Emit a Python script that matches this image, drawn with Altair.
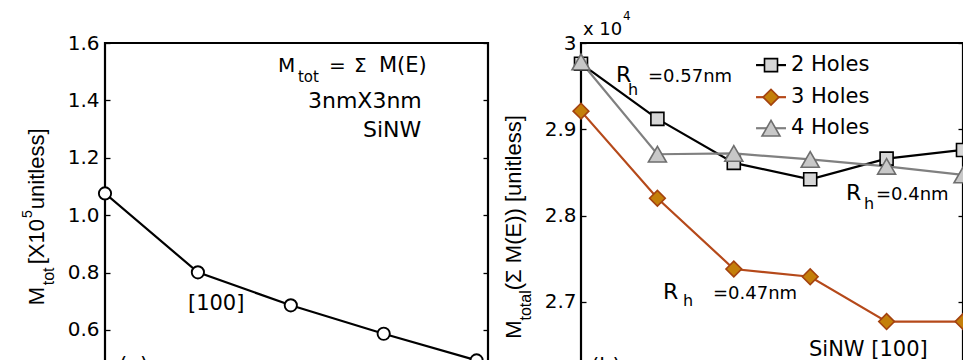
import altair as alt
import pandas as pd

# ---------------- data ----------------
left_x = [0, 1, 2, 3, 4]
left_m = [1.076, 0.801, 0.686, 0.587, 0.494]          # x 10^5

right_x = [0, 1, 2, 3, 4, 5]
series_names = ["2 Holes", "3 Holes", "4 Holes"]
holes2 = [2.976, 2.912, 2.861, 2.842, 2.866, 2.876]   # x 10^4
holes3 = [2.921, 2.820, 2.738, 2.729, 2.677, 2.677]
holes4 = [2.978, 2.871, 2.872, 2.865, 2.857, 2.847]

left_yticks = [0.6, 0.8, 1.0, 1.2, 1.4, 1.6]
left_xticks = [0, 0.97, 1.94, 2.91, 3.88]
right_yticks = [2.7, 2.8, 2.9, 3.0]
right_xticks = [0, 1, 2, 3, 4, 5]

# ---------------- styles ----------------
FONT = "DejaVu Sans"
TFONT = "Liberation Sans"
line_colors = ["#000000", "#b5491a", "#808080"]
fill_colors = ["#d6d6d6", "#c47f0a", "#c8c8c8"]
edge_colors = ["#000000", "#a3420f", "#6e6e6e"]
shapes = ["square", "diamond", "triangle-up"]
sizes = [169, 324, 440]

# ---------------- annotations (data coordinates) ----------------
left_notes = pd.DataFrame([
    {"t": "M", "x": 1.862, "y": 1.4988, "s": 20},
    {"t": "tot", "x": 2.077, "y": 1.464, "s": 15},
    {"t": "=", "x": 2.411, "y": 1.4988, "s": 20},
    {"t": "Σ", "x": 2.680, "y": 1.4988, "s": 20},
    {"t": "M(E)", "x": 2.949, "y": 1.4988, "s": 21},
    {"t": "3nmX3nm", "x": 2.185, "y": 1.3733, "s": 22},
    {"t": "SiNW", "x": 2.777, "y": 1.2721, "s": 22},
    {"t": "[100]", "x": 0.893, "y": 0.6687, "s": 21},
])
left_tag = pd.DataFrame([{"t": "(a)", "x": 0.151, "y": 0.4525, "s": 21}])
# rotated y-axis title of the left panel, written in pieces (sub/superscripts)
left_title = pd.DataFrame([
    {"t": "M", "x": -0.657, "y": 0.686, "s": 22},
    {"t": "tot", "x": -0.549, "y": 0.756, "s": 16},
    {"t": "[X10", "x": -0.657, "y": 0.829, "s": 22},
    {"t": "5", "x": -0.786, "y": 0.990, "s": 14},
    {"t": "unitless]", "x": -0.657, "y": 1.021, "s": 22},
])

right_notes = pd.DataFrame([
    {"t": "x 10", "x": 0.026, "y": 3.0093, "s": 18},
    {"t": "4", "x": 0.55, "y": 3.0267, "s": 12},
    {"t": "R", "x": 0.458, "y": 2.9547, "s": 22},
    {"t": "h", "x": 0.615, "y": 2.9395, "s": 16},
    {"t": "=0.57nm", "x": 0.877, "y": 2.9547, "s": 18},
    {"t": "R", "x": 3.469, "y": 2.8174, "s": 22},
    {"t": "h", "x": 3.704, "y": 2.8070, "s": 16},
    {"t": "=0.4nm", "x": 3.861, "y": 2.8174, "s": 18},
    {"t": "R", "x": 1.073, "y": 2.7035, "s": 22},
    {"t": "h", "x": 1.335, "y": 2.6953, "s": 16},
    {"t": "=0.47nm", "x": 1.728, "y": 2.7035, "s": 18},
    {"t": "SiNW [100]", "x": 2.984, "y": 2.6372, "s": 21},
])
right_tag = pd.DataFrame([{"t": "(b)", "x": 0.131, "y": 2.6174, "s": 21}])
right_title = pd.DataFrame([
    {"t": "M", "x": -0.785, "y": 2.657, "s": 22},
    {"t": "total", "x": -0.654, "y": 2.6783, "s": 16},
    {"t": " (Σ M(E)) [unitless]", "x": -0.785, "y": 2.7134, "s": 22},
])

legend_df = pd.DataFrame({
    "series": series_names,
    "x1": [2.291] * 3,
    "x2": [2.683] * 3,
    "xm": [2.487] * 3,
    "xt": [2.749] * 3,
    "y": [2.9744, 2.9372, 2.9012],
})


def text_layer(df, xs, ys, font, angle=0, clip=False):
    return alt.Chart(df).mark_text(align="left", baseline="alphabetic", font=font,
                                   color="black", angle=angle, clip=clip).encode(
        x=alt.X("x:Q", scale=xs, axis=None),
        y=alt.Y("y:Q", scale=ys, axis=None),
        text="t:N",
        size=alt.Size("s:Q", scale=None),
    )


def tick_axis(orient, values, labels=True, **kw):
    return alt.Axis(orient=orient, values=values, labels=labels, domain=False, grid=False,
                    tickSize=5, offset=-5, tickColor="black", tickWidth=1.3,
                    title=None, **kw)


# ---------------- left panel ----------------
ldf = pd.DataFrame({"x": left_x, "m": left_m})
lxs = alt.Scale(domain=[0, 4.123], nice=False, zero=False)
lys = alt.Scale(domain=[0.485, 1.6], nice=False, zero=False)

lbase = alt.Chart(ldf)
l_line = lbase.mark_line(color="black", strokeWidth=2.2, clip=True).encode(
    x=alt.X("x:Q", scale=lxs, axis=tick_axis("top", left_xticks, labels=False)),
    y=alt.Y("m:Q", scale=lys, axis=tick_axis("left", left_yticks, format=".1f", labelPadding=6)),
)
pt_style = dict(shape="circle", size=150, filled=True, fill="white",
                stroke="black", strokeWidth=1.9, opacity=1)
l_pts_edge = lbase.transform_filter("datum.x == 0").mark_point(**pt_style).encode(
    x=alt.X("x:Q", scale=lxs, axis=None),
    y=alt.Y("m:Q", scale=lys, axis=tick_axis("right", left_yticks, labels=False)),
)
l_pts_in = lbase.transform_filter("datum.x > 0").mark_point(clip=True, **pt_style).encode(
    x=alt.X("x:Q", scale=lxs, axis=None),
    y=alt.Y("m:Q", scale=lys, axis=None),
)
left = alt.layer(
    l_line, l_pts_edge, l_pts_in,
    text_layer(left_notes, lxs, lys, FONT),
    text_layer(left_tag, lxs, lys, FONT, clip=True),
    text_layer(left_title, lxs, lys, TFONT, angle=270),
).resolve_axis(y="independent").properties(width=383, height=320)

# ---------------- right panel ----------------
rdf = pd.DataFrame({
    "x": right_x * 3,
    "v": holes2 + holes3 + holes4,
    "series": [series_names[0]] * 6 + [series_names[1]] * 6 + [series_names[2]] * 6,
})
rxs = alt.Scale(domain=[0, 5], nice=False, zero=False)
rys = alt.Scale(domain=[2.629, 3.0], nice=False, zero=False)

color_s = alt.Color("series:N", scale=alt.Scale(domain=series_names, range=line_colors), legend=None)
fill_s = alt.Fill("series:N", scale=alt.Scale(domain=series_names, range=fill_colors), legend=None)
stroke_s = alt.Stroke("series:N", scale=alt.Scale(domain=series_names, range=edge_colors), legend=None)
shape_s = alt.Shape("series:N", scale=alt.Scale(domain=series_names, range=shapes), legend=None)
size_s = alt.Size("series:O", scale=alt.Scale(domain=series_names, range=sizes), legend=None)

rbase = alt.Chart(rdf)
r_line = rbase.mark_line(strokeWidth=2.2, clip=True).encode(
    x=alt.X("x:Q", scale=rxs, axis=tick_axis("top", right_xticks, labels=False)),
    y=alt.Y("v:Q", scale=rys, axis=tick_axis(
        "left", right_yticks, labelPadding=5,
        labelExpr="datum.value == 3 ? '3' : format(datum.value, '.1f')")),
    color=color_s,
)
r_pts_in = rbase.transform_filter("datum.x < 5").mark_point(
    filled=True, opacity=1, strokeWidth=1.6).encode(
    x=alt.X("x:Q", scale=rxs, axis=None),
    y=alt.Y("v:Q", scale=rys, axis=tick_axis("right", right_yticks, labels=False)),
    fill=fill_s, stroke=stroke_s, shape=shape_s, size=size_s,
)
r_pts_edge = rbase.transform_filter("datum.x == 5").mark_point(
    filled=True, opacity=1, strokeWidth=1.6, clip=True).encode(
    x=alt.X("x:Q", scale=rxs, axis=None),
    y=alt.Y("v:Q", scale=rys, axis=None),
    fill=fill_s, stroke=stroke_s, shape=shape_s, size=size_s,
)
lg = alt.Chart(legend_df)
lg_rule = lg.mark_rule(strokeWidth=2.2).encode(
    x=alt.X("x1:Q", scale=rxs, axis=None), x2="x2:Q",
    y=alt.Y("y:Q", scale=rys, axis=None), color=color_s,
)
lg_pts = lg.mark_point(filled=True, opacity=1, strokeWidth=1.6).encode(
    x=alt.X("xm:Q", scale=rxs, axis=None),
    y=alt.Y("y:Q", scale=rys, axis=None),
    fill=fill_s, stroke=stroke_s, shape=shape_s, size=size_s,
)
lg_txt = lg.mark_text(align="left", baseline="middle", font=FONT, fontSize=21,
                      color="black").encode(
    x=alt.X("xt:Q", scale=rxs, axis=None),
    y=alt.Y("y:Q", scale=rys, axis=None),
    text="series:N",
)
right = alt.layer(
    r_line, r_pts_in, r_pts_edge, lg_rule, lg_pts, lg_txt,
    text_layer(right_notes, rxs, rys, FONT),
    text_layer(right_tag, rxs, rys, FONT, clip=True),
    text_layer(right_title, rxs, rys, TFONT, angle=270),
).resolve_axis(y="independent").properties(width=382, height=320)

chart = alt.hconcat(left, right, spacing=93, bounds="flush").properties(
    padding={"left": 19, "top": 8, "right": -2, "bottom": -5},
    background="white",
).configure_view(stroke="black", strokeWidth=2.2).configure_axis(
    labelFont=FONT, labelFontSize=20, labelColor="black",
)

chart.save("out.html", embed_options={"renderer": "svg", "actions": False})
